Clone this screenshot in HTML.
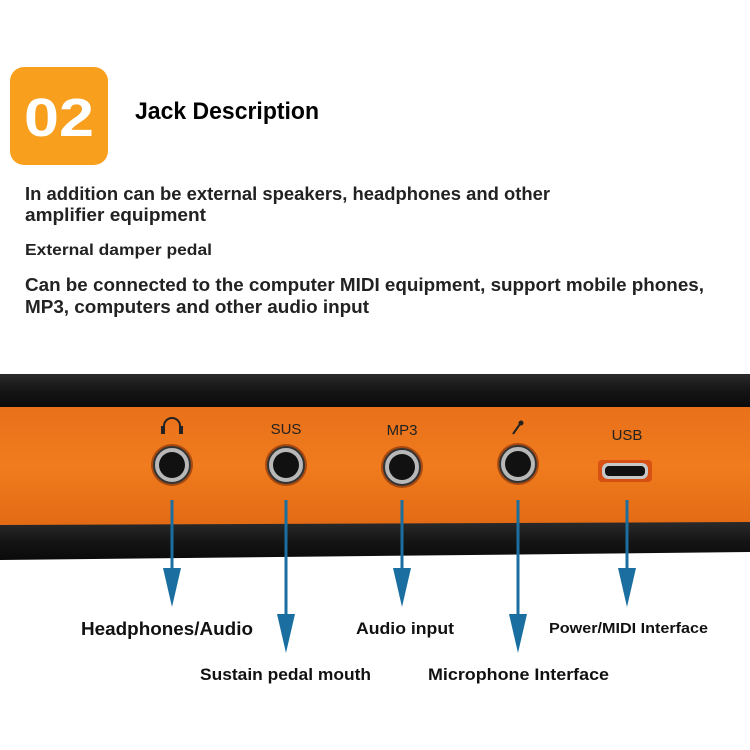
<!DOCTYPE html>
<html><head><meta charset="utf-8"><style>
html,body{margin:0;padding:0;background:#fff;}
svg{display:block;}
text{font-family:"Liberation Sans Narrow","Liberation Sans",sans-serif;font-weight:bold;}
</style></head><body>
<svg width="750" height="750" viewBox="0 0 750 750" xmlns="http://www.w3.org/2000/svg">
<defs>
<linearGradient id="or" x1="0" y1="0" x2="0" y2="1">
<stop offset="0" stop-color="#e8701a"/><stop offset="0.5" stop-color="#f07c1e"/><stop offset="1" stop-color="#e26a14"/>
</linearGradient>
<linearGradient id="bk" x1="0" y1="0" x2="0" y2="1">
<stop offset="0" stop-color="#2a2a2a"/><stop offset="0.5" stop-color="#151515"/><stop offset="1" stop-color="#0a0a0a"/>
</linearGradient>
</defs>
<rect x="10" y="67" width="98" height="98" rx="14" fill="#f8a01e"/>
<text x="59" y="136" font-size="54" fill="#fff" text-anchor="middle" textLength="70" lengthAdjust="spacingAndGlyphs" style="font-family:'Liberation Sans',sans-serif">02</text>
<text x="135" y="119" font-size="24" fill="#000" textLength="184" lengthAdjust="spacingAndGlyphs" style="font-family:'Liberation Sans',sans-serif">Jack Description</text>

<g fill="#222" font-size="18">
<text x="25" y="200" textLength="525" lengthAdjust="spacingAndGlyphs">In addition can be external speakers, headphones and other</text>
<text x="25" y="221" textLength="181" lengthAdjust="spacingAndGlyphs">amplifier equipment</text>
<text x="25" y="255" font-size="16" textLength="187" lengthAdjust="spacingAndGlyphs">External damper pedal</text>
<text x="25" y="291" textLength="679" lengthAdjust="spacingAndGlyphs">Can be connected to the computer MIDI equipment, support mobile phones,</text>
<text x="25" y="313" textLength="344" lengthAdjust="spacingAndGlyphs">MP3, computers and other audio input</text>
</g>

<rect x="0" y="374" width="750" height="34" fill="url(#bk)"/>
<rect x="0" y="407" width="750" height="119" fill="url(#or)"/>
<path d="M0 525 L750 522 L750 552 L0 560 Z" fill="url(#bk)"/>

<g fill="#222" font-size="15">
<text x="286" y="434" text-anchor="middle" style="font-weight:normal;font-family:'Liberation Sans',sans-serif">SUS</text>
<text x="402" y="435" text-anchor="middle" style="font-weight:normal;font-family:'Liberation Sans',sans-serif">MP3</text>
<text x="627" y="440" text-anchor="middle" style="font-weight:normal;font-family:'Liberation Sans',sans-serif">USB</text>
</g>
<path d="M164 433 V426 A8 8 0 0 1 180 426 V433" fill="none" stroke="#222" stroke-width="2"/>
<rect x="161" y="426" width="4" height="8" fill="#222"/><rect x="179" y="426" width="4" height="8" fill="#222"/>
<line x1="513" y1="434" x2="520" y2="424" stroke="#222" stroke-width="2"/>
<circle cx="521" cy="423" r="2.5" fill="#222"/>

<g>
<circle cx="172" cy="465" r="21" fill="#7a2a08" opacity="0.6"/>
<circle cx="172" cy="465" r="18" fill="#b8b8b8" stroke="#333" stroke-width="2"/>
<circle cx="172" cy="465" r="13" fill="#111"/>
<circle cx="286" cy="465" r="21" fill="#7a2a08" opacity="0.6"/>
<circle cx="286" cy="465" r="18" fill="#b8b8b8" stroke="#333" stroke-width="2"/>
<circle cx="286" cy="465" r="13" fill="#111"/>
<circle cx="402" cy="467" r="21" fill="#7a2a08" opacity="0.6"/>
<circle cx="402" cy="467" r="18" fill="#b8b8b8" stroke="#333" stroke-width="2"/>
<circle cx="402" cy="467" r="13" fill="#111"/>
<circle cx="518" cy="464" r="21" fill="#7a2a08" opacity="0.6"/>
<circle cx="518" cy="464" r="18" fill="#b8b8b8" stroke="#333" stroke-width="2"/>
<circle cx="518" cy="464" r="13" fill="#111"/>
<rect x="598" y="460" width="54" height="22" rx="4" fill="#c0280a" opacity="0.5"/>
<rect x="602" y="463" width="46" height="16" rx="6" fill="#c8c8c8"/>
<rect x="605" y="466" width="40" height="10" rx="4" fill="#111"/>
</g>

<g stroke="#1a6fa0" stroke-width="3">
<line x1="172" y1="500" x2="172" y2="572"/>
<line x1="286" y1="500" x2="286" y2="620"/>
<line x1="402" y1="500" x2="402" y2="572"/>
<line x1="518" y1="500" x2="518" y2="620"/>
<line x1="627" y1="500" x2="627" y2="572"/>
</g>
<g fill="#1a6fa0">
<path d="M163 568 H181 L172 607 Z"/>
<path d="M277 614 H295 L286 653 Z"/>
<path d="M393 568 H411 L402 607 Z"/>
<path d="M509 614 H527 L518 653 Z"/>
<path d="M618 568 H636 L627 607 Z"/>
</g>

<g fill="#111" font-size="18">
<text x="81" y="635" textLength="172" lengthAdjust="spacingAndGlyphs">Headphones/Audio</text>
<text x="356" y="634" font-size="17" textLength="98" lengthAdjust="spacingAndGlyphs">Audio input</text>
<text x="549" y="633" font-size="15" textLength="159" lengthAdjust="spacingAndGlyphs">Power/MIDI Interface</text>
<text x="200" y="680" font-size="17" textLength="171" lengthAdjust="spacingAndGlyphs">Sustain pedal mouth</text>
<text x="428" y="680" font-size="17" textLength="181" lengthAdjust="spacingAndGlyphs">Microphone Interface</text>
</g>
</svg>
</body></html>
